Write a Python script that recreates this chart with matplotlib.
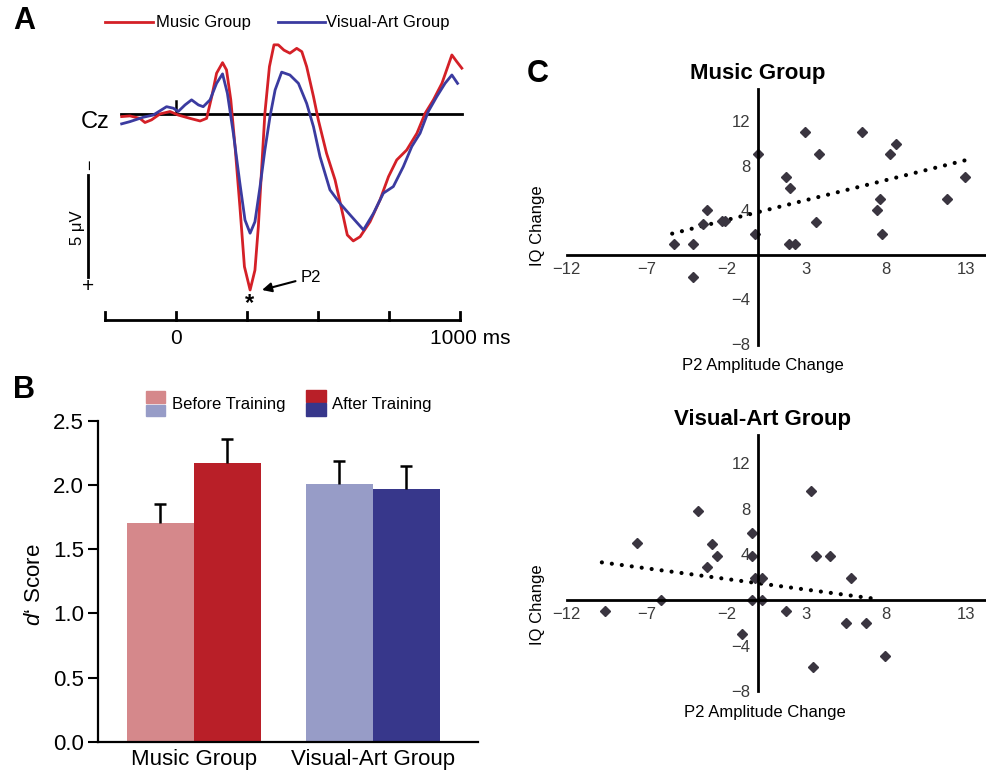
import matplotlib
matplotlib.use("Agg")
import matplotlib.pyplot as plt
from matplotlib.lines import Line2D
from matplotlib.patches import Rectangle

W, H = 987, 773

# ---- panel A: ERP at Cz (ms, uV; negative drawn up) ----
red_t = [-191, -162, -127, -109, -86, -56, -21, 8, 49, 85, 108, 126, 143, 164, 178, 193, 208,
         225, 241, 261, 278, 290, 302, 313, 329, 345, 360, 380, 401, 425, 443, 460, 484, 501,
         530, 560, 589, 603, 624, 648, 683, 718, 748, 777, 812, 848, 877, 906, 936, 971, 988,
         1006]
red_uv = [0.12, 0.09, 0.2, 0.39, 0.27, 0.0, -0.11, 0.05, 0.2, 0.32, 0.2, -0.79, -1.85, -2.33,
          -2.0, -0.64, 1.48, 4.2, 6.94, 8.0, 7.1, 5.12, 2.4, -0.03, -2.15, -3.14, -3.14, -2.9,
          -2.76, -2.98, -2.83, -2.15, -0.79, 0.27, 1.79, 3.0, 4.67, 5.5, 5.77, 5.58, 4.9, 3.91,
          2.85, 2.09, 1.64, 0.88, -0.03, -0.64, -1.39, -2.68, -2.38, -2.08]
blue_t = [-191, -162, -115, -80, -33, -9, 8, 32, 55, 79, 96, 120, 143, 164, 181, 202, 225, 243,
          261, 278, 296, 313, 331, 349, 372, 401, 431, 460, 484, 507, 542, 577, 613, 660, 695,
          730, 765, 800, 830, 859, 888, 918, 947, 971, 991]
blue_uv = [0.45, 0.35, 0.15, 0.05, -0.33, -0.26, -0.11, -0.41, -0.64, -0.41, -0.33, -0.64,
           -1.39, -1.82, -0.94, 0.88, 3.15, 4.82, 5.42, 4.9, 3.3, 1.64, 0.12, -1.09, -1.9,
           -1.77, -1.39, -0.48, 0.58, 1.94, 3.45, 4.06, 4.59, 5.27, 4.52, 3.6, 3.3, 2.4, 1.48,
           0.88, -0.11, -0.79, -1.39, -1.77, -1.39]
time_ticks = [-250, 0, 250, 500, 750, 1000]

# ---- panel B: d' scores ----
bar_groups = ['Music Group', 'Visual-Art Group']
before_scores = [1.70, 2.01]
after_scores = [2.17, 1.97]
before_err = [0.15, 0.18]
after_err = [0.19, 0.18]

# ---- panel C: P2 change vs IQ change ----
music_p2 = [-5.3, -4.1, -4.1, -3.5, -3.2, -2.3, -2.1, -0.2, 0.0, 1.7, 2.0, 1.9, 2.3, 2.9,
            3.8, 3.6, 6.5, 8.6, 8.2, 7.6, 7.4, 7.7, 11.8, 12.9]
music_iq = [1, 1, -2, 2.8, 4, 3, 3, 1.9, 9, 7, 6, 1, 1, 11, 9, 2.9, 11, 9.9, 9, 5, 4, 1.9, 5, 7]
music_fit_x = [-5.4, 13.0]
music_fit_y = [1.9, 8.5]

visual_p2 = [-9.6, -6.1, -7.6, -3.8, -3.2, -2.9, -2.6, -0.4, -0.4, -0.2, 0.2, -0.4, 0.2,
             -1.0, 1.7, 3.3, 3.6, 4.5, 3.4, 5.8, 5.5, 6.7, 7.9]
visual_iq = [-1, 0, 5, 7.8, 2.9, 4.9, 3.9, 5.9, 3.9, 1.9, 1.9, 0, 0, -3, -1, 9.6, 3.9, 3.9,
             -5.9, 1.9, -2, -2, -4.9]
visual_fit_x = [-9.8, 7.6]
visual_fit_y = [3.3, 0.05]

scatter_xticks = [-12, -7, -2, 3, 8, 13]
scatter_yticks = [-8, -4, 4, 8, 12]

RED = '#d42027'
BLUE = '#3b3ba0'
COL_MB = '#d5888b'
COL_MA = '#b91f28'
COL_VB = '#979cc7'
COL_VA = '#37378b'

plt.rcParams['font.family'] = ['Liberation Sans', 'DejaVu Sans']
plt.rcParams['mathtext.fontset'] = 'custom'
plt.rcParams['mathtext.it'] = 'Liberation Sans:italic'


def fx(px):
    return px / W


def fy(py):
    return 1 - py / H


fig = plt.figure(figsize=(W / 100, H / 100), dpi=100)

# ================= A =================
axA = fig.add_axes([fx(60), fy(345), 420 / W, 305 / H])
axA.set_xlim(-408, 1070)
axA.set_ylim(10.5, -3.36)
axA.axis('off')

axA.plot([-194, 1007], [0, 0], color='black', lw=2)
axA.plot([0, 0], [0, -0.6], color='black', lw=1.8)
axA.plot(red_t, red_uv, color=RED, lw=2, solid_joinstyle='round')
axA.plot(blue_t, blue_uv, color=BLUE, lw=2, solid_joinstyle='round')

# time axis
axA.plot([time_ticks[0], time_ticks[-1]], [9.36, 9.36], color='black', lw=2)
for t in time_ticks:
    axA.plot([t, t], [9.36, 9.0], color='black', lw=2)
axA.text(0, 10.2, '0', ha='center', va='center', fontsize=15)
axA.text(894, 10.2, '1000 ms', ha='left', va='center', fontsize=15)

# voltage scale bar
axA.plot([-310, -310], [2.77, 7.41], color='black', lw=2)
axA.text(-299, 2.3, '\u2212', rotation=90, ha='center', va='center', fontsize=13)
axA.text(-310, 7.86, '+', ha='center', va='center', fontsize=15)
axA.text(-345, 5.18, '5 \u03bcV', rotation=90, ha='center', va='center', fontsize=12)
axA.text(-285, 0.36, 'Cz', ha='center', va='center', fontsize=17)

axA.text(260, 8.6, '*', ha='center', va='center', fontsize=17, fontweight='bold')
axA.annotate('P2', xy=(303, 8.0), xytext=(440, 7.41), fontsize=12, ha='left', va='center',
             arrowprops=dict(arrowstyle='-|>', color='black', lw=1.5, shrinkA=2, shrinkB=0,
                             mutation_scale=14))

# legend A
fig.add_artist(Line2D([fx(105), fx(153)], [fy(22), fy(22)], color=RED, lw=2))
fig.text(fx(156), fy(22), 'Music Group', fontsize=12, ha='left', va='center')
fig.add_artist(Line2D([fx(278), fx(325)], [fy(22), fy(22)], color=BLUE, lw=2))
fig.text(fx(326), fy(22), 'Visual-Art Group', fontsize=12, ha='left', va='center')

fig.text(fx(24), fy(21), 'A', fontsize=22, fontweight='bold', ha='center', va='center')

# ================= B =================
axB = fig.add_axes([fx(98), fy(741.7), 380 / W, 321 / H])
centers = [0, 1]
bw = 0.374
for off, scores, errs, cols in [(-bw / 2, before_scores, before_err, [COL_MB, COL_VB]),
                                (bw / 2, after_scores, after_err, [COL_MA, COL_VA])]:
    xs = [c + off for c in centers]
    axB.bar(xs, scores, width=bw, color=cols)
    eb = axB.errorbar(xs, scores, yerr=[[0] * len(errs), errs], fmt='none', ecolor='black',
                      elinewidth=1.8, capsize=4, capthick=1.8)
    eb[1][0].set_visible(False)  # only the upper cap
axB.set_xlim(-0.536, 1.587)
axB.set_ylim(0, 2.5)
axB.set_yticks([0, 0.5, 1.0, 1.5, 2.0, 2.5])
axB.set_yticklabels(['0.0', '0.5', '1.0', '1.5', '2.0', '2.5'])
axB.set_xticks(centers)
axB.set_xticklabels(bar_groups)
axB.tick_params(axis='y', direction='out', length=7, width=1.5, labelsize=16, pad=3)
axB.tick_params(axis='x', length=0, labelsize=16, pad=5)
for s in ['top', 'right']:
    axB.spines[s].set_visible(False)
for s in ['left', 'bottom']:
    axB.spines[s].set_linewidth(1.6)
fig.text(fx(35), fy(585), "$d$\u2018 Score", rotation=90, ha='center', va='center', fontsize=16)

# legend B
fig.add_artist(Rectangle((fx(146), fy(403)), 19 / W, 11.5 / H, color=COL_MB, transform=fig.transFigure))
fig.add_artist(Rectangle((fx(146), fy(416.5)), 19 / W, 11.5 / H, color=COL_VB, transform=fig.transFigure))
fig.text(fx(172), fy(404), 'Before Training', fontsize=12, ha='left', va='center')
fig.add_artist(Rectangle((fx(306), fy(402)), 20 / W, 12.5 / H, color=COL_MA, transform=fig.transFigure))
fig.add_artist(Rectangle((fx(306), fy(416)), 20 / W, 12.5 / H, color=COL_VA, transform=fig.transFigure))
fig.text(fx(332), fy(404), 'After Training', fontsize=12, ha='left', va='center')

fig.text(fx(24), fy(390), 'B', fontsize=22, fontweight='bold', ha='center', va='center')


# ================= C =================
def draw_scatter(ax, xs, ys, fit_x, fit_y, ylim):
    ax.set_xlim(-12, 14.3)
    ax.set_ylim(*ylim)
    ax.plot(fit_x, fit_y, color='black', lw=3, linestyle=(0, (0.01, 2.4)),
            dash_capstyle='round')
    ax.plot(xs, ys, linestyle='none', marker='D', ms=5.5, color='#3a3540')
    for s in ['top', 'right']:
        ax.spines[s].set_visible(False)
    for s in ['left', 'bottom']:
        ax.spines[s].set_position(('data', 0))
        ax.spines[s].set_linewidth(2)
    ax.set_xticks(scatter_xticks)
    ax.set_yticks(scatter_yticks)
    ax.tick_params(length=0, labelsize=12, labelcolor='#3a3a3a')
    ax.tick_params(axis='x', pad=5)
    ax.tick_params(axis='y', pad=6)
    ax.patch.set_visible(False)


axM = fig.add_axes([fx(566.7), fy(345.1), 420.3 / W, (345.1 - 88.7) / H])
draw_scatter(axM, music_p2, music_iq, music_fit_x, music_fit_y, (-8.1, 14.9))
axV = fig.add_axes([fx(566.7), fy(691.2), 420.3 / W, (691.2 - 434.7) / H])
draw_scatter(axV, visual_p2, visual_iq, visual_fit_x, visual_fit_y, (-8.0, 14.5))

fig.text(fx(758), fy(73), 'Music Group', fontsize=16, fontweight='bold', ha='center', va='center')
fig.text(fx(762), fy(420), 'Visual-Art Group', fontsize=16, fontweight='bold', ha='center', va='center')
fig.text(fx(763), fy(365), 'P2 Amplitude Change', fontsize=12, ha='center', va='center')
fig.text(fx(765), fy(712), 'P2 Amplitude Change', fontsize=12, ha='center', va='center')
fig.text(fx(538), fy(226), 'IQ Change', fontsize=12, rotation=90, ha='center', va='center')
fig.text(fx(538), fy(605), 'IQ Change', fontsize=12, rotation=90, ha='center', va='center')
fig.text(fx(538), fy(74), 'C', fontsize=22, fontweight='bold', ha='center', va='center')

fig.savefig('out.png', dpi=100)
